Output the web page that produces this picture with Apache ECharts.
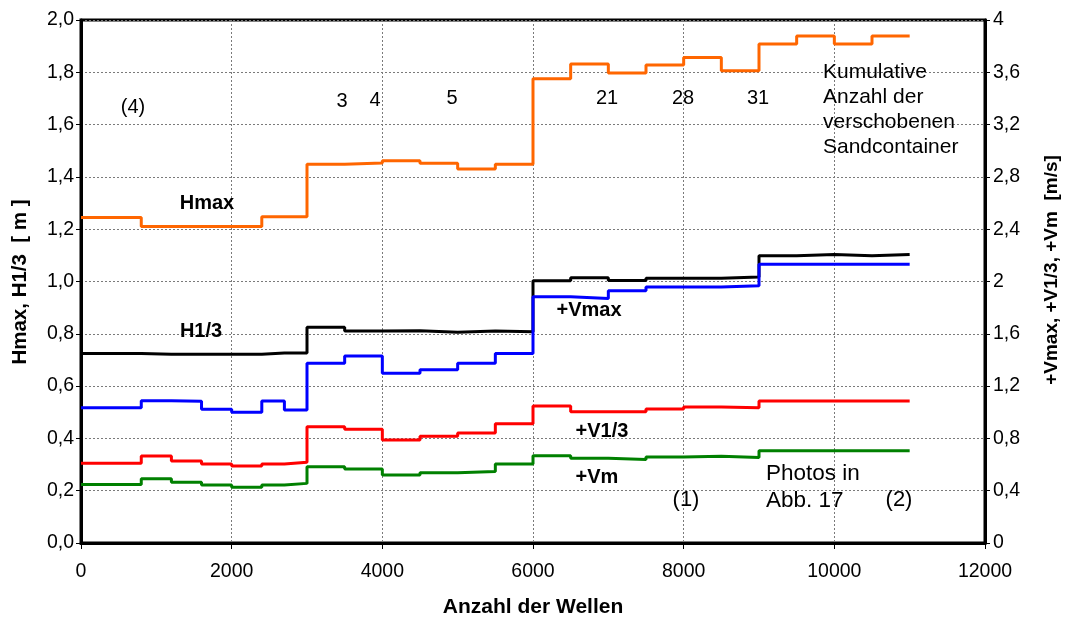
<!DOCTYPE html>
<html>
<head>
<meta charset="utf-8">
<script src="https://cdn.jsdelivr.net/npm/echarts@6/dist/echarts.min.js"></script>
<style>
  html, body { margin: 0; padding: 0; background: #fff; }
  #chart { width: 1068px; height: 619px; }
</style>
</head>
<body>
<div id="chart"></div>
<script>
// Number of waves at which each test step begins (last entry = end of test)
var waves = [0, 800, 1200, 1600, 2000, 2400, 2700, 3000, 3500, 4000, 4500, 5000,
             5500, 6000, 6500, 7000, 7500, 8000, 8500, 9000, 9500, 10000, 10500, 11000];

// Wave heights [m]
var hMax = [1.245, 1.21, 1.21, 1.21, 1.21, 1.248, 1.248, 1.448, 1.453, 1.462, 1.452, 1.43,
            1.448, 1.775, 1.832, 1.797, 1.828, 1.857, 1.806, 1.908, 1.939, 1.908, 1.939, 1.939];
var h13 = [0.725, 0.722, 0.722, 0.722, 0.722, 0.727, 0.727, 0.825, 0.811, 0.812, 0.806, 0.811,
           0.808, 1.003, 1.014, 1.004, 1.012, 1.012, 1.017, 1.098, 1.103, 1.098, 1.103, 1.103];

// Upward velocities [m/s]
var vMax = [1.034, 1.088, 1.084, 1.022, 1.0, 1.086, 1.018, 1.374, 1.43, 1.298, 1.326, 1.374,
            1.45, 1.884, 1.87, 1.93, 1.958, 1.958, 1.968, 2.132, 2.132, 2.132, 2.132, 2.132];
var v13 = [0.61, 0.666, 0.628, 0.604, 0.588, 0.604, 0.618, 0.89, 0.87, 0.788, 0.816, 0.842,
           0.912, 1.048, 1.004, 1.004, 1.024, 1.04, 1.034, 1.086, 1.086, 1.086, 1.086, 1.086];
var vM = [0.448, 0.492, 0.464, 0.444, 0.426, 0.444, 0.456, 0.584, 0.566, 0.52, 0.538, 0.546,
          0.604, 0.668, 0.648, 0.638, 0.658, 0.664, 0.654, 0.706, 0.706, 0.706, 0.706, 0.706];

// Axis tick labels
var xTickLabels = ['0', '2000', '4000', '6000', '8000', '10000', '12000'];
var leftTickLabels = ['0,0', '0,2', '0,4', '0,6', '0,8', '1,0', '1,2', '1,4', '1,6', '1,8', '2,0'];
var rightTickLabels = ['0', '0,4', '0,8', '1,2', '1,6', '2', '2,4', '2,8', '3,2', '3,6', '4'];

function pairs(vals) {
  return waves.map(function (w, i) { return [w, vals[i]]; });
}

var FONT = 'Liberation Sans, Arial, sans-serif';
var TICK_SIZE = 19.5;
var gridLine = { show: true, lineStyle: { color: '#7a7a7a', width: 1, type: [2, 2] } };

function stepSeries(name, vals, color, axis) {
  return {
    name: name, type: 'line', step: 'end', yAxisIndex: axis,
    data: pairs(vals), symbol: 'none',
    lineStyle: { color: color, width: 3 }, z: 3
  };
}

function txt(text, x, y, opts) {
  opts = opts || {};
  return {
    type: 'text', x: x, y: y, rotation: opts.rotation || 0, z: 10,
    style: {
      text: text, x: 0, y: 0,
      fill: '#000',
      font: (opts.bold ? 'bold ' : '') + (opts.size || 18) + 'px ' + FONT,
      align: opts.align || 'center', verticalAlign: 'middle',
      lineHeight: opts.lineHeight || 20
    }
  };
}

var chart = echarts.init(document.getElementById('chart'), null, { renderer: 'canvas' });
chart.setOption({
  animation: false,
  backgroundColor: '#fff',
  grid: { left: 81, right: 83, top: 20, bottom: 76, show: true, borderColor: '#000', borderWidth: 3, backgroundColor: 'transparent' },
  xAxis: {
    type: 'value', min: 0, max: 12000, interval: 2000,
    axisLine: { show: true, lineStyle: { color: '#000', width: 3 } },
    axisTick: { show: true, length: 6, lineStyle: { color: '#000', width: 1 } },
    axisLabel: { color: '#000', fontSize: TICK_SIZE, fontFamily: FONT, margin: 19,
                 formatter: function (v, i) { return xTickLabels[i]; } },
    splitLine: gridLine
  },
  yAxis: [{
    type: 'value', min: 0, max: 2, interval: 0.2, position: 'left',
    axisLine: { show: true, lineStyle: { color: '#000', width: 3 } },
    axisTick: { show: true, length: 5, lineStyle: { color: '#000', width: 1 } },
    axisLabel: { color: '#000', fontSize: TICK_SIZE, fontFamily: FONT, margin: 7,
                 formatter: function (v, i) { return leftTickLabels[i]; } },
    splitLine: gridLine
  }, {
    type: 'value', min: 0, max: 4, interval: 0.4, position: 'right',
    axisLine: { show: true, lineStyle: { color: '#000', width: 3 } },
    axisTick: { show: true, length: 5, lineStyle: { color: '#000', width: 1 } },
    axisLabel: { color: '#000', fontSize: TICK_SIZE, fontFamily: FONT, margin: 8,
                 formatter: function (v, i) { return rightTickLabels[i]; } },
    splitLine: { show: false }
  }],
  series: [
    stepSeries('Hmax', hMax, '#ff6600', 0),
    stepSeries('H1/3', h13, '#000000', 0),
    stepSeries('+Vmax', vMax, '#0000ff', 1),
    stepSeries('+V1/3', v13, '#ff0000', 1),
    stepSeries('+Vm', vM, '#008000', 1)
  ],
  graphic: [
    // axis titles
    txt('Hmax, H1/3  [ m ]', 20, 282, { bold: true, size: 20.5, rotation: Math.PI / 2 }),
    txt('+Vmax, +V1/3, +Vm  [m/s]', 1052, 270, { bold: true, size: 19, rotation: Math.PI / 2 }),
    txt('Anzahl der Wellen', 533, 607, { bold: true, size: 21 }),
    // series names
    txt('Hmax', 207, 203, { bold: true, size: 20 }),
    txt('H1/3', 201, 331, { bold: true, size: 20 }),
    txt('+Vmax', 589, 310, { bold: true, size: 20 }),
    txt('+V1/3', 602, 431, { bold: true, size: 20 }),
    txt('+Vm', 597, 477, { bold: true, size: 20 }),
    // cumulative number of displaced sand containers
    txt('(4)', 133, 107, { size: 20 }),
    txt('3', 342, 101, { size: 20 }),
    txt('4', 375, 100, { size: 20 }),
    txt('5', 452, 98, { size: 20 }),
    txt('21', 607, 98, { size: 20 }),
    txt('28', 683, 98, { size: 20 }),
    txt('31', 758, 98, { size: 20 }),
    txt('Kumulative\nAnzahl der\nverschobenen\nSandcontainer', 823, 110, { size: 21, align: 'left', lineHeight: 25 }),
    // photo references
    txt('Photos in\nAbb. 17', 766, 487, { size: 22.5, align: 'left', lineHeight: 27 }),
    txt('(1)', 686, 500, { size: 22 }),
    txt('(2)', 899, 500, { size: 22 })
  ]
});
</script>
</body>
</html>
